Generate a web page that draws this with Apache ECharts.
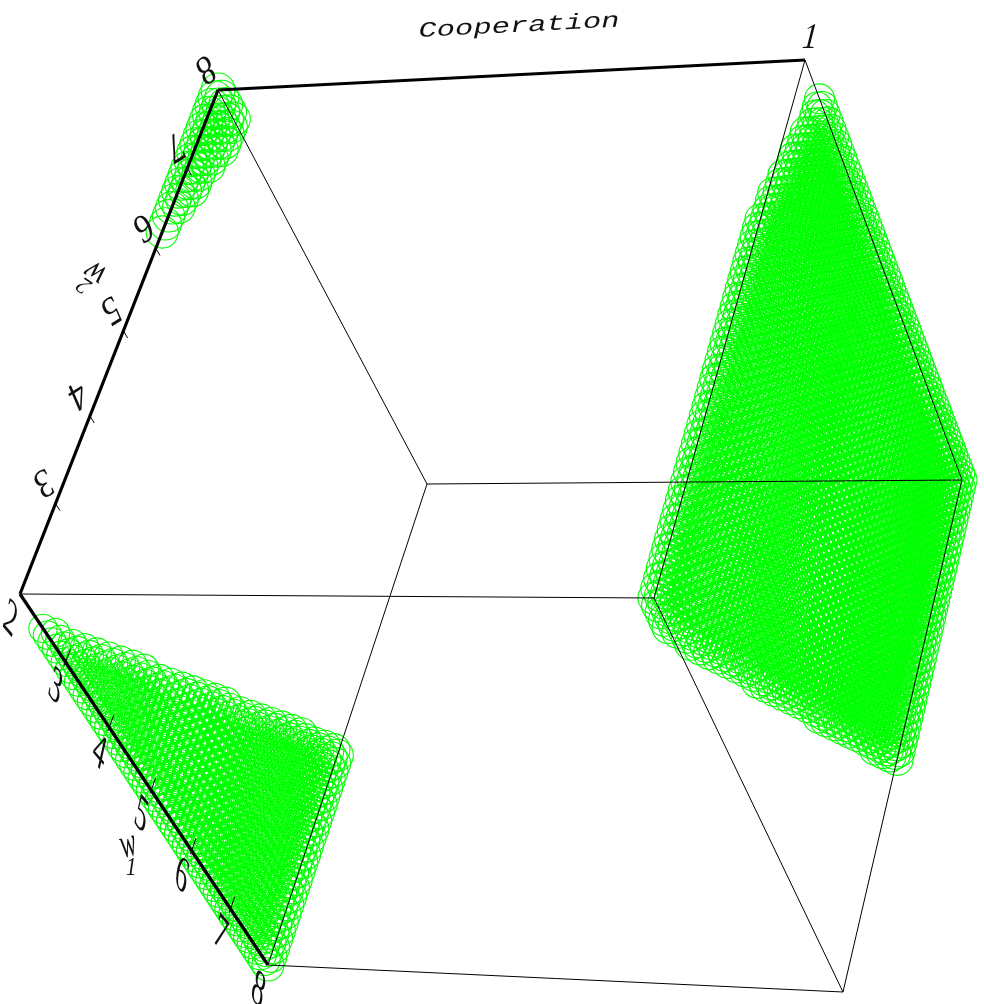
<!DOCTYPE html>
<html><head><meta charset="utf-8">
<style>html,body{margin:0;padding:0;background:#fff}#c{width:984px;height:1004px}</style>
<script src="https://cdn.jsdelivr.net/npm/echarts@6/dist/echarts.min.js"></script>
</head><body><div id="c"></div>
<script>
// ---- data ----
const w1Grid = [2.0,2.1,2.2,2.3,2.4,2.5,2.6,2.7,2.8,2.9,3.0,3.1,3.2,3.3,3.4,3.5,3.6,3.7,3.8,3.9,4.0,4.1,4.2,4.3,4.4,4.5,4.6,4.7,4.8,4.9,5.0,5.1,5.2,5.3,5.4,5.5,5.6,5.7,5.8,5.9,6.0,6.1,6.2,6.3,6.4,6.5,6.6,6.7,6.8,6.9,7.0,7.1,7.2,7.3,7.4,7.5,7.6,7.7,7.8,7.9,8.0];
const w2Grid = [2.0,2.1,2.2,2.3,2.4,2.5,2.6,2.7,2.8,2.9,3.0,3.1,3.2,3.3,3.4,3.5,3.6,3.7,3.8,3.9,4.0,4.1,4.2,4.3,4.4,4.5,4.6,4.7,4.8,4.9,5.0,5.1,5.2,5.3,5.4,5.5,5.6,5.7,5.8,5.9,6.0,6.1,6.2,6.3,6.4,6.5,6.6,6.7,6.8,6.9,7.0,7.1,7.2,7.3,7.4,7.5,7.6,7.7,7.8,7.9,8.0];
// for each w1: cooperation = 1 when cooperateFrom <= w2 <= cooperateTo, otherwise 0
const cooperateFrom = [2.0,2.0,2.0,2.0,2.0,2.1,2.1,2.2,2.2,2.2,2.3,2.3,2.4,2.4,2.5,2.5,2.6,2.6,2.7,2.7,2.8,2.8,2.9,2.9,2.9,3.0,3.0,3.1,3.1,3.2,3.2,3.3,3.3,3.4,3.4,3.5,3.5,3.6,3.6,3.6,3.7,3.7,3.8,3.8,3.9,3.9,4.0,4.0,4.1,4.1,4.2,4.2,4.3,4.3,4.3,4.4,4.4,4.5,4.5,4.6,4.6];
const cooperateTo = [6.1,6.5,6.8,7.2,7.5,8,8,8,8,8,8,8,8,8,8,8,8,8,8,8,8,8,8,8,8,8,8,8,8,8,8,8,8,8,8,8,8,8,8,8,8,8,8,8,8,8,8,8,8,8,8,8,8,8,8,8,8,8,8,8,8];
const w1Ticks = [2,3,4,5,6,7,8];
const w2Ticks = [3,4,5,6,7,8];
const w1Name = 'w', w1Sub = '1', w2Name = 'w', w2Sub = '2';
const cooperationTop = '1';
const title = 'Cooperation';

// ---- camera: where the box corners land on the page ----
const camera = {
  c0: [[20,594],[268,965],[427,484],[218,90]],   // (w1,w2): (2,2),(8,2),(8,8),(2,8)
  c1: [[654,598],[843,992],[962,480],[805,60]]
};
// circle radius at those same corners
const radii = { c0:[14,16,16,17], c1:[16,17,15,15] };

function homography(q){
  const [[x0,y0],[x1,y1],[x2,y2],[x3,y3]] = q;
  const dx1=x1-x2, dx2=x3-x2, dx3=x0-x1+x2-x3, dy1=y1-y2, dy2=y3-y2, dy3=y0-y1+y2-y3;
  const d=dx1*dy2-dx2*dy1;
  const g=(dx3*dy2-dx2*dy3)/d, h=(dx1*dy3-dx3*dy1)/d;
  return [x1-x0+g*x1, x3-x0+h*x3, x0, y1-y0+g*y1, y3-y0+h*y3, y0, g, h];
}
const H0=homography(camera.c0), H1=homography(camera.c1);
function onFace(H,w1,w2){
  const u=(w1-2)/6, v=(w2-2)/6, w=H[6]*u+H[7]*v+1;
  return [(H[0]*u+H[1]*v+H[2])/w,(H[3]*u+H[4]*v+H[5])/w];
}
function project(w1,w2,c){
  const a=onFace(H0,w1,w2), b=onFace(H1,w1,w2);
  return [a[0]+(b[0]-a[0])*c, a[1]+(b[1]-a[1])*c];
}
function radius(w1,w2,c){
  const r=c?radii.c1:radii.c0, u=(w1-2)/6, v=(w2-2)/6;
  return r[0]*(1-u)*(1-v)+r[1]*u*(1-v)+r[2]*u*v+r[3]*(1-u)*v;
}

const pts0=[], pts1=[];
w1Grid.forEach((w1,i)=>{
  w2Grid.forEach(w2=>{
    const c = (w2>=cooperateFrom[i]-1e-6 && w2<=cooperateTo[i]+1e-6) ? 1 : 0;
    const p = project(w1,w2,c), s = 2*radius(w1,w2,c);
    (c?pts1:pts0).push({value:p, symbolSize:s});
  });
});

function edge(a,b){ return [project(...a),project(...b)]; }
const thinEdges=[
  [[2,8,0],[8,8,0]],[[8,8,0],[8,2,0]],
  [[2,2,1],[8,2,1]],[[8,2,1],[8,8,1]],[[8,8,1],[2,8,1]],[[2,8,1],[2,2,1]],
  [[2,2,0],[2,2,1]],[[8,8,0],[8,8,1]],[[8,2,0],[8,2,1]]
];
const thickEdges=[ [[2,2,0],[2,8,0]], [[2,2,0],[8,2,0]], [[2,8,0],[2,8,1]] ];
function lineSeries(pairs,width){
  const data=[];
  pairs.forEach(p=>{data.push(...p,[NaN,NaN]);});
  return {type:'line',data,symbol:'none',silent:true,connectNulls:false,animation:false,z:5,
    lineStyle:{color:'#000',width},showSymbol:false};
}
const w1TickLines=w1Ticks.slice(1,-1).map(v=>edge([v,1.96,0],[v,2.14,0]));
const w2TickLines=w2Ticks.slice(0,-1).map(v=>edge([1.98,v,0],[2.1,v,0]));

// ---- text placement ----
const labels=[];
function add(text,at,dx,dy,rot,o){ labels.push(Object.assign({text,at,dx,dy,rot},o)); }
w1Ticks.forEach(v=>add(String(v),project(v,2,0),-10,26,50,
  {font:'italic 37px "Liberation Serif"',skewX:0.75,sx:0.95}));
w2Ticks.forEach(v=>add(String(v),project(2,v,0),-13,-22,148,
  {font:'italic 40px "Liberation Serif"',sx:0.85}));
add(cooperationTop,project(2,8,1),5,-21,0,{font:'italic 36px "Liberation Serif"',skewX:-0.1,sx:0.85});
add(title,[511,75],8,-49,-3,{font:'italic 24px "Liberation Mono"',sx:1.27,sy:0.9});
add(w1Name,project(5,2,0),-23,55,-15,{font:'italic 30px "Liberation Serif"',sx:0.8,sy:1.4});
add(w1Sub,project(5,2,0),-20,78,0,{font:'italic 26px "Liberation Serif"',sx:0.8});
add(w2Name,project(2,5,0),-28,-58,215,{font:'italic 30px "Liberation Serif"',sx:1,sy:1.2});
add(w2Sub,project(2,5,0),-39,-46,215,{font:'italic 24px "Liberation Serif"'});

const opt={
  animation:false,
  grid:{left:0,right:0,top:0,bottom:0},
  xAxis:{type:'value',min:0,max:984,show:false},
  yAxis:{type:'value',min:0,max:1004,inverse:true,show:false},
  series:[
    {type:'scatter',name:'Cooperation 0',data:pts0,symbol:'circle',large:false,progressive:0,silent:true,
      itemStyle:{color:'rgba(0,0,0,0)',borderColor:'#00ff00',borderWidth:1.1,opacity:1},z:2},
    {type:'scatter',name:'Cooperation 1',data:pts1,symbol:'circle',large:false,progressive:0,silent:true,
      itemStyle:{color:'rgba(0,0,0,0)',borderColor:'#00ff00',borderWidth:1.1,opacity:1},z:2},
    lineSeries(thinEdges.map(e=>edge(...e)),1),
    lineSeries(thickEdges.map(e=>edge(...e)),3.2),
    lineSeries(w1TickLines,1),
    lineSeries(w2TickLines,1),
    {type:'custom',coordinateSystem:'cartesian2d',silent:true,z:6,clip:false,
      data:labels.map(l=>[l.at[0]+l.dx,l.at[1]+l.dy]),
      renderItem(params,api){
        const l=labels[params.dataIndex], pos=api.coord([api.value(0),api.value(1)]);
        return {type:'text',x:pos[0],y:pos[1],rotation:-l.rot*Math.PI/180,
          scaleX:l.sx||1,scaleY:l.sy||1,skewX:l.skewX||0,skewY:l.skewY||0,
          style:{text:l.text,font:l.font,fill:'#111',align:'center',verticalAlign:'middle'}};
      }}
  ]
};
const chart=echarts.init(document.getElementById('c'),null,{renderer:'canvas'});
chart.setOption(opt);
</script></body></html>
